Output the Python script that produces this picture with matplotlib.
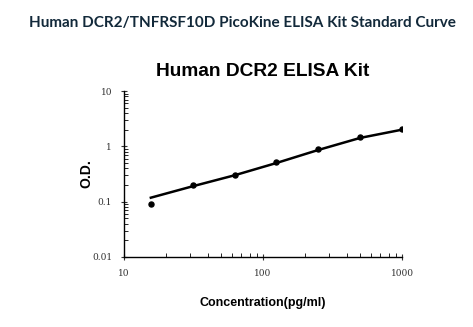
import matplotlib
matplotlib.use("Agg")
import matplotlib.pyplot as plt
from matplotlib.ticker import LogLocator, FixedLocator, FixedFormatter, NullFormatter

conc = [15.6, 31.25, 62.5, 125, 250, 500, 1000]
od = [0.091, 0.20, 0.30, 0.52, 0.89, 1.48, 2.05]
fit = [0.118, 0.19, 0.30, 0.50, 0.86, 1.42, 2.0]
xticks = [10, 100, 1000]
xtick_labels = ["10", "100", "1000"]
yticks = [0.01, 0.1, 1, 10]
ytick_labels = ["0.01", "0.1", "1", "10"]

fig = plt.figure(figsize=(4.73, 3.27), dpi=100)
fig.patch.set_facecolor("white")
W, H = 473, 327
left, right, bottom, top = 124, 402, 257, 91
ax = fig.add_axes([left / W, 1 - bottom / H, (right - left) / W, (bottom - top) / H])

ax.plot(conc, fit, color="black", lw=1.8, zorder=2)
ax.scatter(conc, od, color="black", s=13, zorder=3)

ax.set_xscale("log")
ax.set_yscale("log")
ax.set_xlim(10, 1000)
ax.set_ylim(0.01, 10)
for s in ["top", "right"]:
    ax.spines[s].set_visible(False)
for s in ["left", "bottom"]:
    ax.spines[s].set_linewidth(1.0)

ax.xaxis.set_major_locator(FixedLocator(xticks))
ax.xaxis.set_major_formatter(FixedFormatter(xtick_labels))
ax.yaxis.set_major_locator(FixedLocator(yticks))
ax.yaxis.set_major_formatter(FixedFormatter(ytick_labels))
ax.xaxis.set_minor_locator(LogLocator(base=10, subs=range(2, 10)))
ax.yaxis.set_minor_locator(LogLocator(base=10, subs=range(2, 10)))
ax.xaxis.set_minor_formatter(NullFormatter())
ax.yaxis.set_minor_formatter(NullFormatter())
ax.tick_params(axis="both", which="major", direction="inout", length=5, width=0.8,
               labelsize=6.5, colors="#333333", pad=6)
ax.tick_params(axis="both", which="minor", direction="in", length=3, width=0.6)
for lab in ax.get_xticklabels() + ax.get_yticklabels():
    lab.set_family("DejaVu Serif")

ax.set_ylabel("O.D.", fontsize=10, fontweight="bold", family="Liberation Sans", labelpad=-1)
ax.set_xlabel("Concentration(pg/ml)", fontsize=9, fontweight="bold", family="Liberation Sans", labelpad=14)

fig.text(263 / W, 1 - 72 / H, "Human DCR2 ELISA Kit", ha="center", va="center",
         fontsize=13.8, fontweight="bold", family="Liberation Sans", color="black")
fig.text(242 / W, 1 - 23 / H, "Human DCR2/TNFRSF10D PicoKine ELISA Kit Standard Curve",
         ha="center", va="center", fontsize=11, fontweight="bold", family="Lato", color="#12293a")

fig.savefig("out.png", dpi=100, facecolor="white")
